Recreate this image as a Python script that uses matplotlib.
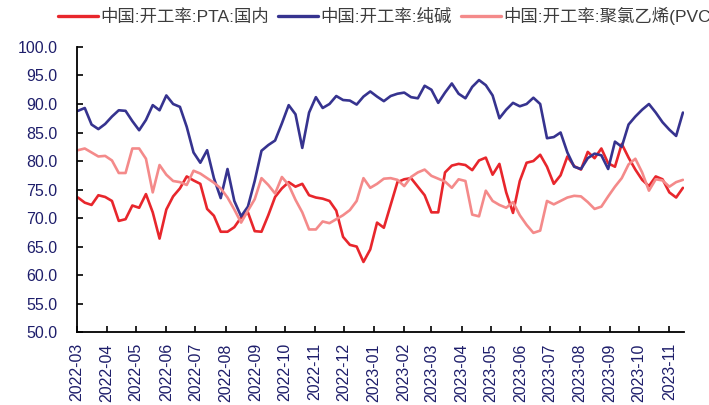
import pandas as pd
import matplotlib.pyplot as plt
import matplotlib.dates as mdates

# weekly operating rates (%), Mar 2022 - Nov 2023
dates = pd.date_range("2022-03-02", periods=90, freq="7D")

pta = [73.6, 72.7, 72.3, 74.0, 73.7, 73.0, 69.5, 69.8, 72.2, 71.8,
       74.2, 71.0, 66.4, 71.5, 73.8, 75.2, 77.3, 76.6, 76.0, 71.6,
       70.4, 67.6, 67.6, 68.4, 70.1, 71.0, 67.7, 67.6, 70.5, 73.7,
       75.2, 76.3, 75.5, 76.0, 74.0, 73.6, 73.4, 73.0, 71.3, 66.7,
       65.3, 65.0, 62.3, 64.5, 69.2, 68.3, 72.3, 76.3, 76.8, 77.0,
       75.5, 74.0, 71.0, 71.0, 78.0, 79.2, 79.5, 79.3, 78.4, 80.1,
       80.6, 77.6, 79.5, 74.5, 70.9, 76.5, 79.7, 80.0, 81.1, 79.0,
       76.0, 77.5, 80.8, 79.1, 78.5, 81.6, 80.5, 82.2, 79.6, 79.0,
       83.0, 80.6, 78.5, 76.7, 75.6, 77.3, 76.8, 74.5, 73.6, 75.3]

soda = [88.8, 89.3, 86.4, 85.6, 86.5, 87.8, 88.9, 88.8, 87.0, 85.4,
        87.2, 89.8, 88.9, 91.5, 90.0, 89.5, 86.0, 81.5, 79.7, 81.9,
        77.0, 73.5, 78.6, 73.0, 70.3, 72.0, 76.5, 81.8, 82.8, 83.6,
        86.6, 89.8, 88.2, 82.3, 88.5, 91.2, 89.3, 90.0, 91.4, 90.7,
        90.6, 89.9, 91.3, 92.2, 91.3, 90.5, 91.4, 91.8, 92.0, 91.2,
        91.0, 93.2, 92.5, 90.2, 92.0, 93.6, 91.8, 91.0, 93.0, 94.2,
        93.3, 91.5, 87.5, 89.0, 90.2, 89.6, 90.0, 91.1, 90.0, 84.0,
        84.2, 85.0, 81.5, 79.0, 78.6, 80.5, 81.3, 81.0, 78.6, 83.4,
        82.5, 86.4, 87.8, 89.0, 90.0, 88.5, 86.8, 85.5, 84.4, 88.5]

pvc = [81.9, 82.2, 81.5, 80.8, 80.9, 80.1, 77.9, 77.9, 82.2, 82.2,
       80.4, 74.5, 79.3, 77.6, 76.5, 76.3, 75.8, 78.3, 77.8, 77.0,
       76.2, 75.2, 73.6, 71.5, 69.2, 71.3, 73.3, 77.0, 75.8, 74.3,
       77.2, 75.8, 73.2, 71.0, 68.0, 68.0, 69.4, 69.1, 69.8, 70.5,
       71.4, 73.0, 77.0, 75.3, 76.0, 76.9, 77.0, 76.7, 75.6, 77.2,
       78.0, 78.5, 77.4, 76.9, 76.4, 75.3, 76.8, 76.5, 70.6, 70.3,
       74.8, 73.0, 72.3, 71.8, 72.8, 70.5, 68.8, 67.4, 67.8, 73.0,
       72.4, 73.0, 73.6, 73.9, 73.8, 72.8, 71.6, 72.0, 73.8, 75.5,
       77.0, 79.4, 80.4, 78.0, 74.8, 76.8, 76.6, 75.5, 76.3, 76.7]

labels = ["中国:开工率:PTA:国内", "中国:开工率:纯碱", "中国:开工率:聚氯乙烯(PVC)"]
colors = ["#e8262c", "#36338f", "#f48a8a"]

plt.rcParams["font.family"] = ["Liberation Sans", "Noto Sans CJK SC"]
tick_color = "#1e1e6b"

fig = plt.figure(figsize=(7.09, 4.05), dpi=100)
ax = fig.add_axes([0.1086, 0.180, 0.856, 0.704])

for vals, lab, col in zip([pta, soda, pvc], labels, colors):
    ax.plot(dates, vals, color=col, lw=1.9, label=lab,
            solid_joinstyle="round", solid_capstyle="round")

ax.set_ylim(50, 100)
ax.set_yticks(range(50, 101, 5))
ax.yaxis.set_major_formatter(plt.FormatStrFormatter("%.1f"))
ax.set_xlim(pd.Timestamp("2022-03-01"), pd.Timestamp("2023-11-16"))
ax.xaxis.set_major_locator(mdates.MonthLocator())
ax.xaxis.set_major_formatter(mdates.DateFormatter("%Y-%m"))

ax.tick_params(axis="both", direction="in", length=4, width=1.2,
               labelsize=11.5, labelcolor=tick_color)
ax.tick_params(axis="y", pad=14)
ax.tick_params(axis="x", pad=8, labelrotation=90)

for side in ("top", "right"):
    ax.spines[side].set_visible(False)
for side in ("left", "bottom"):
    ax.spines[side].set_linewidth(1.3)
    ax.spines[side].set_color("black")

leg = fig.legend(loc="upper left", bbox_to_anchor=(0.06, 1.022), ncol=3,
                 frameon=False, fontsize=12.5, handlelength=2.3,
                 handletextpad=0.15, columnspacing=0.5,
                 labelcolor="#3c3c3c")
for line in leg.get_lines():
    line.set_linewidth(2.4)

fig.savefig("out.png", dpi=100)
